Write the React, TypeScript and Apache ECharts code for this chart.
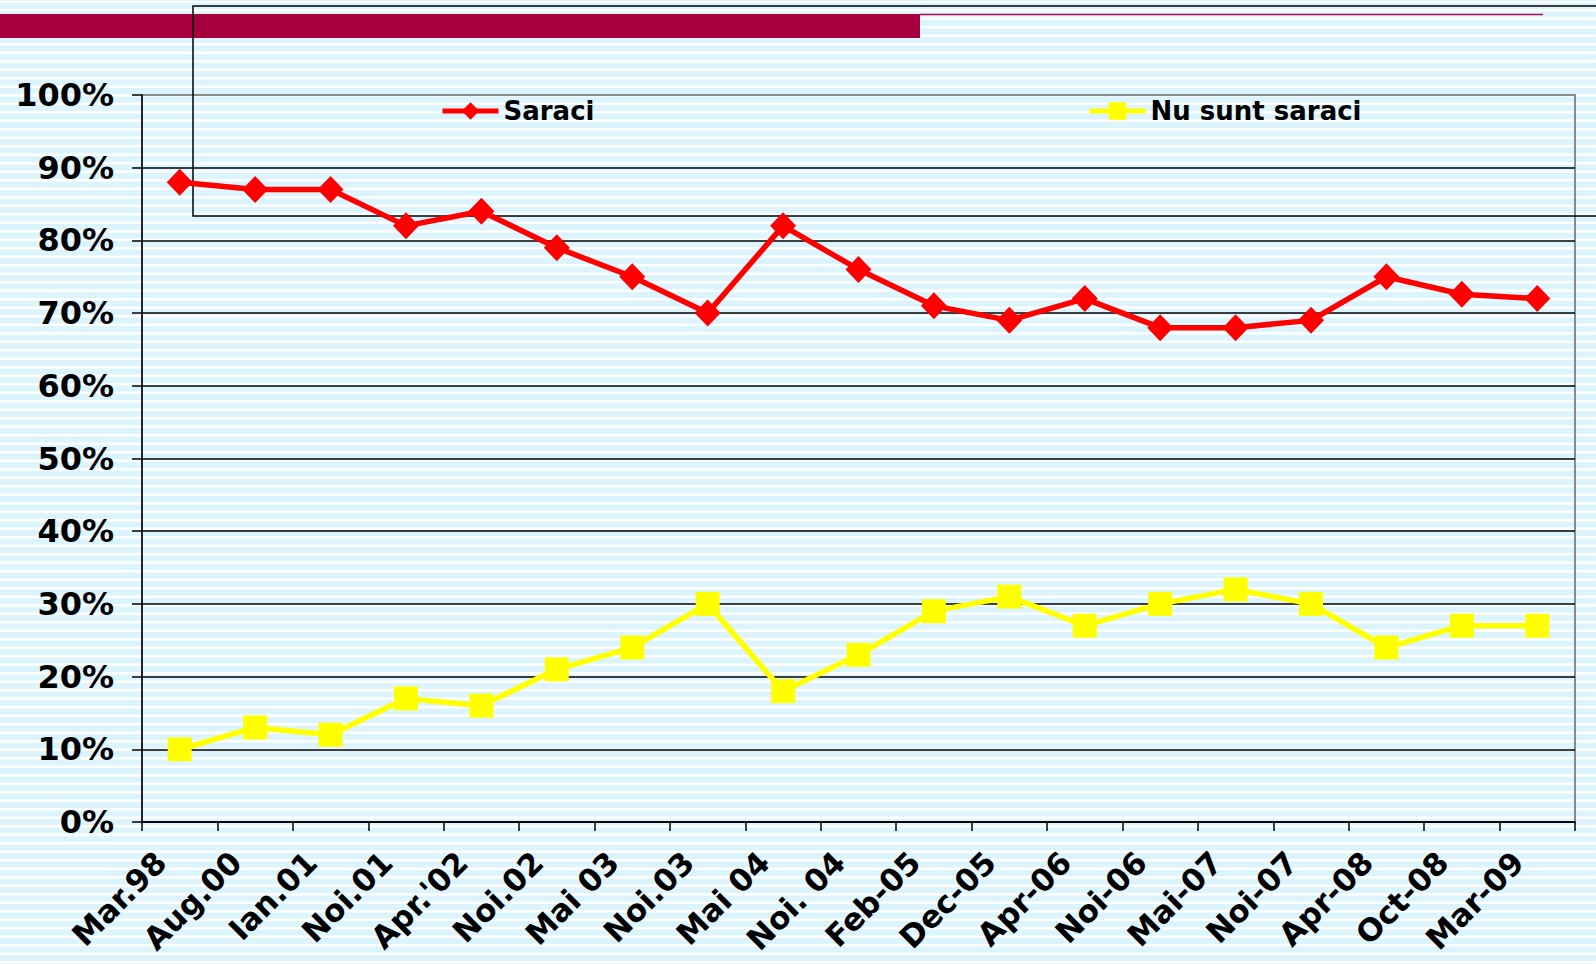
import React, { useEffect, useRef } from "react";
import * as echarts from "echarts";

const categories = [
  "Mar.98", "Aug.00", "Ian.01", "Noi.01", "Apr.'02", "Noi.02", "Mai 03", "Noi.03", "Mai 04",
  "Noi. 04", "Feb-05", "Dec-05", "Apr-06", "Noi-06", "Mai-07", "Noi-07", "Apr-08", "Oct-08", "Mar-09",
];
const saraci = [88, 87, 87, 82, 84, 79, 75, 70, 82, 76, 71, 69, 72, 68, 68, 69, 75, 72.6, 72];
const nuSuntSaraci = [10, 13, 12, 17, 16, 21, 24, 30, 18, 23, 29, 31, 27, 30, 32, 30, 24, 27, 27];
const seriesNames = ["Saraci", "Nu sunt saraci"];

const FONT = "'DejaVu Sans', Verdana, sans-serif";

export default function App() {
  const ref = useRef<HTMLDivElement>(null);
  useEffect(() => {
    if (!ref.current) return;
    const chart = echarts.init(ref.current, null, { renderer: "svg" });
    const legendCommon = {
      top: 93, itemWidth: 56, itemHeight: 22, itemGap: 7,
      lineStyle: { width: 5 },
      textStyle: { fontFamily: FONT, fontWeight: "bold", fontSize: 26, color: "#000" },
    };
    chart.setOption({
      animation: false,
      backgroundColor: "transparent",
      grid: {
        left: 142, right: 21, top: 95, bottom: 142,
        containLabel: false, outerBoundsMode: "none",
        show: true, borderColor: "#8a8a8a", borderWidth: 2, backgroundColor: "transparent",
      },
      legend: [
        { ...legendCommon, data: [seriesNames[0]], left: 435 },
        { ...legendCommon, data: [seriesNames[1]], left: 1082 },
      ],
      xAxis: {
        type: "category",
        data: categories,
        boundaryGap: true,
        axisLine: { lineStyle: { color: "#000", width: 1.5 } },
        axisTick: { show: true, length: 9, alignWithLabel: false, lineStyle: { color: "#000", width: 1.5 } },
        axisLabel: {
          interval: 0, rotate: 45, margin: 16, padding: [0, 27, 0, 0],
          fontFamily: FONT, fontWeight: "bold", fontSize: 31, color: "#000",
        },
        splitLine: { show: false },
      },
      yAxis: {
        type: "value",
        min: 0, max: 100, interval: 10,
        axisLine: { show: true, lineStyle: { color: "#000", width: 1.5 } },
        axisTick: { show: true, length: 10, lineStyle: { color: "#000", width: 1.5 } },
        axisLabel: {
          formatter: "{value}%", margin: 28,
          fontFamily: FONT, fontWeight: "bold", fontSize: 32, color: "#000",
        },
        splitLine: { show: true, showMaxLine: false, lineStyle: { color: "#000", width: 1.5 } },
      },
      graphic: [
        { type: "rect", z: 0, shape: { x: 0, y: 14, width: 920, height: 24 }, style: { fill: "#A8003F" } },
        { type: "line", z: 0, shape: { x1: 920, y1: 14.5, x2: 1543, y2: 14.5 }, style: { stroke: "#B8104A", lineWidth: 1.5 } },
        {
          type: "rect", z: 1, shape: { x: 193, y: 6, width: 1500, height: 210 },
          style: { fill: "none", stroke: "#000", lineWidth: 1.5 },
        },
      ],
      series: [
        {
          name: seriesNames[0], type: "line", data: saraci, z: 3,
          symbol: "diamond", symbolSize: [26, 27],
          lineStyle: { color: "#FF0000", width: 5.5 },
          itemStyle: { color: "#FF0000" },
        },
        {
          name: seriesNames[1], type: "line", data: nuSuntSaraci, z: 3,
          symbol: "rect", symbolSize: [24, 24],
          lineStyle: { color: "#FFFF00", width: 5.5 },
          itemStyle: { color: "#FFFF00" },
        },
      ],
    });
    return () => chart.dispose();
  }, []);
  return (
    <div
      style={{
        position: "absolute", left: 0, top: 0, width: 1596, height: 964,
        backgroundImage:
          "repeating-linear-gradient(to bottom, #ffffff 0px, #ffffff 1.5px, #DCF4FD 2.5px, #DCF4FD 7.5px, #ffffff 8.5px)",
        backgroundPosition: "0 1px",
      }}
    >
      <div ref={ref} style={{ width: 1596, height: 964 }} />
    </div>
  );
}
